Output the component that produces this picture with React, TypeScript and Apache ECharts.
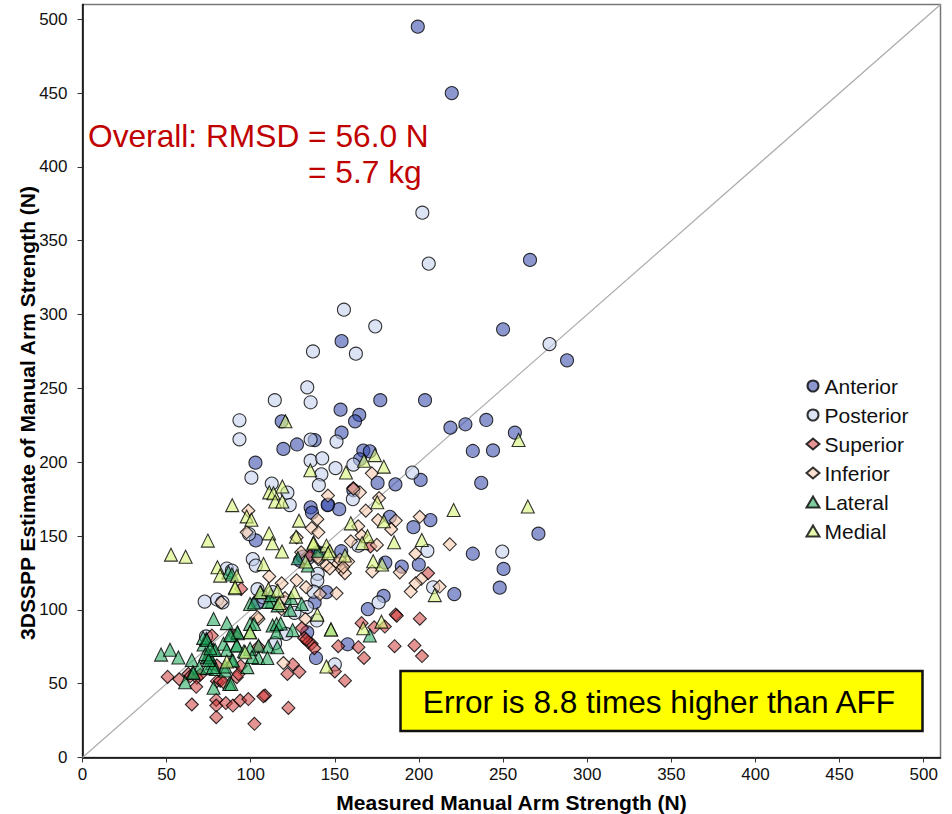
import React, { useEffect, useRef } from "react";
import * as echarts from "echarts";

const axisTicks = [0, 50, 100, 150, 200, 250, 300, 350, 400, 450, 500];
const diagonal = [[0, 0], [510, 510]];

const anterior = [
  [199.3, 495], [219.5, 450], [266, 337], [250, 290], [288, 269], [154, 282], [177, 242], [203.6, 242], [153.4, 235.6],
  [164.5, 232], [162, 227.7], [154, 220], [218.7, 223.4], [227.6, 225.7], [240, 228.6], [257, 220], [232, 207.6],
  [244, 208], [166.9, 207.9], [170.8, 207.4], [164.9, 202], [175.4, 186], [186, 185], [201, 188], [237, 186],
  [271, 151.6], [182.7, 163], [206.8, 160.8], [196.7, 156], [146, 171.3], [152.6, 168.2], [161, 181], [232, 138],
  [250.3, 127.7], [199.9, 130.7], [189.8, 129.3], [180, 132], [153.8, 139.7], [118.4, 227.7], [119.4, 209],
  [127.5, 212], [138, 215], [102.8, 199.7], [135.6, 169.4], [136.4, 165.9], [145.7, 171], [103, 147], [129.3, 133.4],
  [131, 136], [145, 112], [138, 105], [179, 109.4], [169.6, 100.5], [133.6, 84.8], [157.6, 76.7], [138.8, 67.4],
  [248, 115], [221, 110.7], [104, 105], [137, 137], [140, 139],
];

const posterior = [
  [202, 369], [205.8, 334.5], [277.6, 280], [155.4, 303.3], [174, 292], [137, 275], [162.5, 273.5], [133.6, 250.7],
  [114.3, 242], [135.6, 240.6], [93.3, 228.4], [93.3, 215.5], [135.6, 215.3], [151, 214], [135.6, 201], [142.5, 202.6],
  [150.4, 196], [142, 191.8], [140.5, 184.5], [100.4, 189.6], [112.5, 185.5], [121.8, 179.4], [123.2, 171], [99, 151.3],
  [101.2, 134.4], [103, 130], [139.8, 124.4], [85.8, 128], [161, 198.4], [196, 193], [160.7, 175], [205, 140],
  [249.5, 139.5], [164, 143.5], [139.6, 119.8], [208.4, 115.3], [176, 105], [104, 114], [107.5, 108.5], [133.4, 101.8],
  [137.4, 112.3], [139.3, 92.8], [121, 83.7], [114.5, 77.4], [150, 63], [88.8, 126.6], [72.6, 105.6], [80, 107],
  [83.2, 105], [73.4, 82], [113, 112], [120, 105], [134, 135], [143, 138], [126, 98],
];

const superior = [
  [50.6, 54.6], [57.5, 53], [63, 56.7], [68, 54], [67.6, 47.9], [65, 35.9], [79.9, 51.7], [81.9, 52],
  [83.8, 51], [79.5, 39], [79.5, 35.2], [79.5, 27.3], [85.2, 36.9], [89.4, 35.2], [93.7, 38.6], [91.7, 54.4],
  [92.7, 56.5], [76.9, 82.6], [90.7, 82.6], [79.9, 62.3], [171.2, 142.9], [205.4, 124.8], [186.2, 96.8], [186.8, 96],
  [200.5, 94], [165.9, 91], [173.4, 88.2], [179.7, 88.7], [152, 75.4], [164, 74.7], [185.5, 75.4], [197.3, 75.9],
  [167.3, 67.4], [201.8, 68.7], [130.5, 87.8], [131.7, 81], [134.2, 78], [136.2, 77], [137.8, 74], [94.3, 114.2],
  [135.2, 136.8], [125, 63], [121.8, 56.6], [128.9, 58], [156, 52], [150, 58.3], [108.5, 42], [107.5, 41.5],
  [98.6, 39.6], [122.4, 33.6], [102.2, 22.8], [104.6, 75], [161, 182.5], [64, 55], [70, 56], [94, 62], [133, 80],
];

const inferior = [
  [172, 192.5], [164.9, 179.6], [145.9, 177.4], [176.3, 175.7], [168.4, 167.2], [200.5, 163], [175.7, 160.8],
  [186.2, 160.5], [183.5, 154.6], [163.9, 156.6], [165.9, 150.3], [218.3, 144.4], [159.5, 146.4], [197.9, 138],
  [172.2, 126], [188.6, 125.4], [201.4, 121], [145, 130], [151.8, 131.3], [154, 127.6], [156, 124.8], [157.9, 132.7],
  [111, 122.6], [118.4, 118], [127.3, 120], [132.9, 115.3], [141.2, 110.7], [151, 111.2], [120.4, 108], [195.1, 112.4],
  [198, 118], [212.3, 115.8], [132.5, 93.8], [104.6, 93.8], [119.4, 64], [140.2, 134.3], [118.4, 100.5], [98.6, 167.2],
  [97.6, 152.5], [139.6, 161.4], [136.2, 155.4], [140.2, 152.5], [127.3, 149], [140, 135.6], [82.5, 105], [161, 182],
  [104, 95], [147, 128], [153, 134], [155, 129], [130, 139], [175, 144],
];

const lateral = [
  [46.7, 69.7], [52, 73], [57, 67.7], [65, 66], [69.4, 61], [61, 51], [65.6, 57.8], [66, 57.2], [77.9, 93.8],
  [85.8, 91], [73.6, 80.3], [72, 76.5], [77.9, 72.9], [75, 69], [74, 68], [77, 63.8], [74, 60.5], [79.3, 59.9],
  [84.8, 58.9], [77.9, 47.2], [87.2, 49.8], [88.4, 82.6], [92.3, 84.2], [83.8, 77], [85.8, 72.9], [91.7, 76.2],
  [88.7, 65.7], [84.8, 61.6], [86.8, 125.3], [88.8, 123.9], [99.6, 104], [102, 105], [112.5, 105.6], [123.4, 100],
  [130.3, 104], [99.6, 90.5], [102, 90.4], [99.6, 84.8], [92.1, 84.8], [113, 89.4], [115.4, 90.4], [117.8, 90.8],
  [115.4, 84.8], [124.9, 86.3], [91.7, 75.8], [104.6, 75.8], [110.5, 75.2], [115.8, 74.7], [99.6, 73.6], [104.6, 67.4],
  [109.9, 67.4], [98, 61.2], [89.4, 65.7], [88.4, 49.8], [170.8, 82.6], [147.7, 86.7], [110.4, 105.4], [100.8, 68.1],
  [87.7, 83], [75.8, 68], [78.8, 72.8], [71.7, 81], [74, 79.6], [77.6, 61.3], [73, 70], [75, 66], [76, 74], [128, 135],
  [134, 130], [106, 112], [112, 110], [116, 103], [124, 108], [140, 140], [96, 72],
];

const medial = [
  [120.6, 227.7], [135.4, 194.6], [111, 179.6], [113.5, 179], [118.8, 183.5], [114.5, 173.4], [118.8, 173.4], [89, 170.9],
  [97.6, 163.3], [100.4, 161], [128.7, 160.4], [110.9, 151.8], [112.9, 145.1], [126.9, 149.6], [137.4, 145.8], [145, 143.5],
  [147, 140], [146, 138.3], [74.5, 146.9], [52.6, 137.4], [61.3, 136], [118.6, 139.5], [107.6, 131], [132.6, 132.7],
  [80.2, 128.9], [81.8, 123.2], [91.7, 123], [173.8, 204.8], [167.3, 201], [179.1, 197], [156.6, 193], [175.2, 172.9],
  [159.5, 158.6], [179.1, 160], [185.2, 145.8], [201.7, 147.3], [220.6, 167.6], [264.7, 170], [259.2, 215], [169.4, 149.9],
  [166.2, 145.2], [172.8, 132.9], [178.1, 130.7], [156, 136.8], [209.4, 110], [90.7, 114.6], [105.6, 112], [110.5, 114],
  [116, 113], [125.9, 112], [117, 104.6], [139.6, 96.8], [147.7, 86.7], [177.7, 92], [166.9, 87.5], [145, 61.6],
  [99.6, 84.8], [96.7, 71.3], [85.8, 65], [90.7, 115.3], [137.2, 145],
];

const overallLine1 = "Overall: RMSD = 56.0 N";
const overallLine2 = "= 5.7 kg";
const errorNote = "Error is 8.8 times higher than AFF";

const FONT = "Liberation Sans";

function scatter(name: string, data: number[][], symbol: string, size: number, color: string) {
  return {
    type: "scatter",
    name,
    data,
    symbol,
    symbolSize: size,
    itemStyle: { color, borderColor: "#000", borderWidth: 1.1 },
    emphasis: { disabled: true },
  };
}

export default function App() {
  const ref = useRef<HTMLDivElement>(null);
  useEffect(() => {
    const chart = echarts.init(ref.current!, undefined, { renderer: "svg" });
    const axisCommon = {
      type: "value",
      min: 0,
      max: 510,
      interval: 50,
      nameLocation: "middle",
      splitLine: { show: false },
      axisLine: { show: true, onZero: false, lineStyle: { color: "#000", width: 1.5 } },
      axisTick: { show: true, length: 5, customValues: axisTicks, lineStyle: { color: "#333", width: 1 } },
      nameTextStyle: { fontFamily: FONT, fontWeight: "bold", fontSize: 21, color: "#000" },
    };
    const labelCommon = { fontFamily: FONT, fontSize: 17, color: "#111", customValues: axisTicks };
    chart.setOption({
      animation: false,
      backgroundColor: "#fff",
      grid: { left: 82.5, right: 11.5, top: 4.5, bottom: 56.5, show: true, borderColor: "#777", borderWidth: 1.5, backgroundColor: "#fff", outerBoundsMode: "none" },
      xAxis: { ...axisCommon, name: "Measured Manual Arm Strength (N)", nameGap: 34, axisLabel: { ...labelCommon, margin: 8.5 } },
      yAxis: {
        ...axisCommon,
        name: "3DSSPP Estimate of Manual Arm Strength (N)",
        nameGap: 45,
        nameMoveOverlap: false,
        nameTextStyle: { ...axisCommon.nameTextStyle, padding: [0, 64, 0, 0] },
        axisLabel: { ...labelCommon, margin: 15 },
      },
      legend: {
        orient: "vertical",
        left: 800.5,
        top: 370.5,
        itemWidth: 13,
        itemHeight: 11,
        itemGap: 8,
        selectedMode: false,
        data: ["Anterior", "Posterior", "Superior", "Inferior", "Lateral", "Medial"],
        textStyle: { fontFamily: FONT, fontSize: 21, color: "#111", padding: [0, 0, 0, 0] },
      },
      series: [
        { type: "line", name: "Identity", data: diagonal, symbol: "none", lineStyle: { color: "#ababab", width: 1.2 }, silent: true, z: 1 },
        scatter("Anterior", anterior, "circle", 13, "rgba(50,70,170,0.7)"),
        scatter("Posterior", posterior, "circle", 13, "rgba(190,205,235,0.7)"),
        scatter("Superior", superior, "diamond", 13, "rgba(205,50,50,0.65)"),
        scatter("Inferior", inferior, "diamond", 13, "rgba(250,200,170,0.7)"),
        scatter("Lateral", lateral, "triangle", 13, "rgba(30,165,90,0.7)"),
        scatter("Medial", medial, "triangle", 13, "rgba(215,245,120,0.75)"),
      ],
      graphic: [
        { type: "text", left: 88, top: 120, z: 20, style: { text: overallLine1, fontFamily: FONT, fontSize: 31.7, fill: "#C00000" } },
        { type: "text", left: 308, top: 156, z: 20, style: { text: overallLine2, fontFamily: FONT, fontSize: 31.7, fill: "#C00000" } },
        {
          type: "rect", z: 20,
          shape: { x: 400.5, y: 671, width: 522, height: 60 },
          style: { fill: "#FFFF00", stroke: "#111", lineWidth: 2.5 },
        },
        {
          type: "text", z: 21, x: 659, y: 702,
          style: { text: errorNote, fontFamily: FONT, fontSize: 31.6, fill: "#000", align: "center", verticalAlign: "middle" },
        },
      ],
    });
    return () => chart.dispose();
  }, []);
  return <div ref={ref} style={{ position: "absolute", left: 0, top: 0, width: 952, height: 814 }} />;
}
